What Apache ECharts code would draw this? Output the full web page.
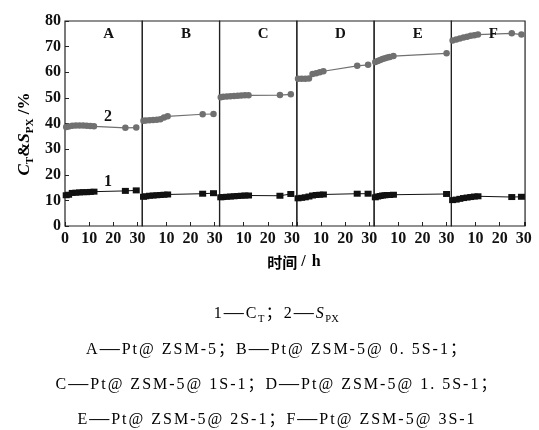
<!DOCTYPE html>
<html><head><meta charset="utf-8">
<script src="https://cdn.jsdelivr.net/npm/echarts@6/dist/echarts.min.js"></script>
<style>html,body{margin:0;padding:0;background:#fff}#c{width:539px;height:430px}</style>
</head><body><div id="c"></div>
<script>
// ---------------- data ----------------
const panelNames = ['A', 'B', 'C', 'D', 'E', 'F'];
const xTickLabels = [0, 10, 20, 30];
const yTickLabels = [0, 10, 20, 30, 40, 50, 60, 70, 80];

const timeA = [0.5, 1.5, 3, 4.5, 6, 7.5, 9, 10.5, 12, 25, 29.5];
const ctA   = [12.0, 12.2, 12.9, 13.0, 13.1, 13.2, 13.2, 13.3, 13.4, 13.7, 13.9];
const spxA  = [38.6, 38.8, 39.1, 39.2, 39.2, 39.2, 39.1, 39.0, 38.9, 38.3, 38.4];

const timeB = [0.5, 1.5, 3, 4.5, 6, 7.5, 9, 10.5, 25, 29.5];
const ctB   = [11.4, 11.6, 11.8, 11.9, 12.0, 12.1, 12.2, 12.3, 12.6, 12.8];
const spxB  = [41.1, 41.2, 41.3, 41.4, 41.5, 41.7, 42.3, 42.8, 43.6, 43.7];

const timeC = [0.5, 1.5, 3, 4.5, 6, 7.5, 9, 10.5, 12, 25, 29.5];
const ctC   = [11.2, 11.3, 11.4, 11.5, 11.6, 11.7, 11.8, 11.9, 11.9, 11.8, 12.5];
const spxC  = [50.2, 50.4, 50.5, 50.6, 50.7, 50.8, 50.9, 51.0, 51.0, 51.1, 51.4];

const timeD = [0.5, 2, 3.5, 5, 6.5, 8, 9.5, 11, 25, 29.5];
const ctD   = [10.8, 11.0, 11.2, 11.5, 11.9, 12.1, 12.2, 12.3, 12.6, 12.6];
const spxD  = [57.5, 57.5, 57.5, 57.6, 59.3, 59.6, 60.0, 60.4, 62.5, 62.9];

const timeE = [0.5, 1.5, 2.5, 3.5, 4.5, 5.5, 6.5, 8, 30];
const ctE   = [11.2, 11.5, 11.7, 11.9, 12.0, 12.1, 12.1, 12.2, 12.5];
const spxE  = [64.0, 64.4, 64.8, 65.2, 65.5, 65.8, 66.0, 66.3, 67.4];

const timeF = [0.5, 2, 3.5, 5, 6.5, 8, 9.5, 11, 25, 29];
const ctF   = [10.1, 10.3, 10.6, 10.9, 11.1, 11.3, 11.5, 11.6, 11.3, 11.4];
const spxF  = [72.4, 72.8, 73.2, 73.6, 73.9, 74.2, 74.4, 74.7, 75.2, 74.7];

const panelMax = [32, 32, 32, 32, 32, 30.5];

const times = [timeA, timeB, timeC, timeD, timeE, timeF];
const ctVals = [ctA, ctB, ctC, ctD, ctE, ctF];
const spxVals = [spxA, spxB, spxC, spxD, spxE, spxF];

// caption text segments: [text, style]
const caption1 = [['1—C', 'n'], ['T', 'sub'], ['；2—', 'n'], ['S', 'it'], ['PX', 'sub']];
const caption2 = [['A—Pt@ ZSM-5；B—Pt@ ZSM-5@ 0. 5S-1；', 'n']];
const caption3 = [['C—Pt@ ZSM-5@ 1S-1；D—Pt@ ZSM-5@ 1. 5S-1；', 'n']];
const caption4 = [['E—Pt@ ZSM-5@ 2S-1；F—Pt@ ZSM-5@ 3S-1', 'n']];

// ---------------- layout / style ----------------
const SERIF = '"Liberation Serif", "Times New Roman", "Noto Sans CJK SC", serif';
const PLOT_LEFT = 65, PLOT_TOP = 21, PLOT_H = 205, UNIT = 2.415;
const GRAY = '#707070';

const chart = echarts.init(document.getElementById('c'), null, {renderer: 'canvas'});

const grids = [], xAxes = [], yAxes = [], series = [];
let left = PLOT_LEFT;
const panelLefts = [], panelWidths = [];
panelNames.forEach((p, i) => {
  const w = panelMax[i] * UNIT;
  panelLefts.push(left); panelWidths.push(w);
  grids.push({left: left, top: PLOT_TOP, width: w, height: PLOT_H, show: true,
    borderColor: '#222', borderWidth: 1.2, backgroundColor: 'transparent', containLabel: false});
  left += w;
  xAxes.push({
    gridIndex: i, type: 'value', min: 0, max: panelMax[i], interval: 10,
    axisLine: {show: false}, splitLine: {show: false},
    axisTick: {show: true, inside: true, length: 4, lineStyle: {color: '#222', width: 1}},
    axisLabel: {
      margin: 5, color: '#111', fontFamily: SERIF, fontWeight: 'bold', fontSize: 16,
      formatter: v => (xTickLabels.indexOf(v) >= 0 && (i === 0 || v !== 0)) ? String(v) : ''
    }
  });
  yAxes.push({
    gridIndex: i, type: 'value', min: 0, max: 80, interval: 10,
    axisLine: {show: false}, splitLine: {show: false},
    axisTick: {show: i === 0, inside: true, length: 4, lineStyle: {color: '#222', width: 1}},
    axisLabel: {
      show: i === 0, margin: 4, color: '#111', fontFamily: SERIF, fontWeight: 'bold', fontSize: 16,
      formatter: v => yTickLabels.indexOf(v) >= 0 ? String(v) : ''
    }
  });
  series.push({
    type: 'line', xAxisIndex: i, yAxisIndex: i, animation: false,
    data: times[i].map((t, k) => [t, spxVals[i][k]]),
    symbol: 'circle', symbolSize: 6.5, showSymbol: true,
    itemStyle: {color: GRAY}, lineStyle: {color: GRAY, width: 1.2}, z: 3
  });
  series.push({
    type: 'line', xAxisIndex: i, yAxisIndex: i, animation: false,
    data: times[i].map((t, k) => [t, ctVals[i][k]]),
    symbol: 'rect', symbolSize: [7, 6], showSymbol: true,
    itemStyle: {color: '#111'}, lineStyle: {color: '#111', width: 1}, z: 4
  });
});

// rich text helpers for captions (per-character fragments to mimic wide typesetting)
const capStyles = {
  n:   {fontFamily: SERIF, fontSize: 16, color: '#222', lineHeight: 20, padding: [0, 1, 0, 1]},
  it:  {fontFamily: SERIF, fontSize: 16, fontStyle: 'italic', color: '#222', lineHeight: 20, padding: [0, 1, 0, 1]},
  d:   {fontFamily: SERIF, fontSize: 20, color: '#222', lineHeight: 20, padding: [0, 1, 0, 1]},
  sub: {fontFamily: SERIF, fontSize: 10.5, color: '#222', lineHeight: 10, verticalAlign: 'bottom', padding: [0, 0.5, 0, 0.5]}
};
function buildRich(segs) {
  let s = '';
  segs.forEach(([txt, st]) => {
    if (st === 'sub') { s += '{sub|' + txt + '}'; return; }
    for (const ch of txt) {
      const style = ch === '—' ? 'd' : st;
      s += '{' + style + '|' + ch + '}';
    }
  });
  return s;
}

const CAP_X = 276;
const capYs = [314, 349.5, 385, 420];
const captions = [caption1, caption2, caption3, caption4];

const graphic = [];
captions.forEach((c, k) => {
  graphic.push({type: 'text', x: CAP_X, y: capYs[k], z: 10,
    style: {text: buildRich(c), rich: capStyles, align: 'center', verticalAlign: 'middle'}});
});

// panel letters
panelNames.forEach((p, i) => {
  graphic.push({type: 'text', x: panelLefts[i] + panelWidths[i] / 2 + 5, y: 34, z: 10,
    style: {text: p, fontFamily: SERIF, fontWeight: 'bold', fontSize: 15, fill: '#111',
      align: 'center', verticalAlign: 'middle'}});
});

// curve labels 1 and 2
graphic.push({type: 'text', x: 108, y: 117, z: 10,
  style: {text: '2', fontFamily: SERIF, fontWeight: 'bold', fontSize: 16, fill: '#111', align: 'center', verticalAlign: 'middle'}});
graphic.push({type: 'text', x: 108, y: 182, z: 10,
  style: {text: '1', fontFamily: SERIF, fontWeight: 'bold', fontSize: 16, fill: '#111', align: 'center', verticalAlign: 'middle'}});

// y axis title
graphic.push({type: 'text', x: 25, y: 134, rotation: Math.PI / 2, z: 10,
  style: {
    text: '{i|C}{s|T}{b|&}{i|S}{s|PX}{b| /%}',
    align: 'center', verticalAlign: 'middle',
    rich: {
      i: {fontFamily: SERIF, fontWeight: 'bold', fontStyle: 'italic', fontSize: 17, color: '#111', lineHeight: 22},
      b: {fontFamily: SERIF, fontWeight: 'bold', fontSize: 17, color: '#111', lineHeight: 22},
      s: {fontFamily: SERIF, fontWeight: 'bold', fontSize: 11, color: '#111', lineHeight: 11, verticalAlign: 'bottom'}
    }
  }});

// x axis title
graphic.push({type: 'text', x: 294, y: 262, z: 10,
  style: {
    text: '{a|时间}{b|/}{c|h}', align: 'center', verticalAlign: 'middle',
    rich: {
      a: {fontFamily: '"Noto Sans CJK SC", sans-serif', fontWeight: 'bold', fontSize: 15, color: '#111', lineHeight: 20},
      b: {fontFamily: SERIF, fontWeight: 'bold', fontSize: 16, color: '#111', lineHeight: 20, padding: [0, 4, 0, 4]},
      c: {fontFamily: SERIF, fontWeight: 'bold', fontSize: 16, color: '#111', lineHeight: 20, padding: [0, 0, 0, 2]}
    }
  }});

chart.setOption({
  animation: false,
  backgroundColor: '#fff',
  grid: grids, xAxis: xAxes, yAxis: yAxes, series: series,
  graphic: graphic
});
</script>
</body></html>
